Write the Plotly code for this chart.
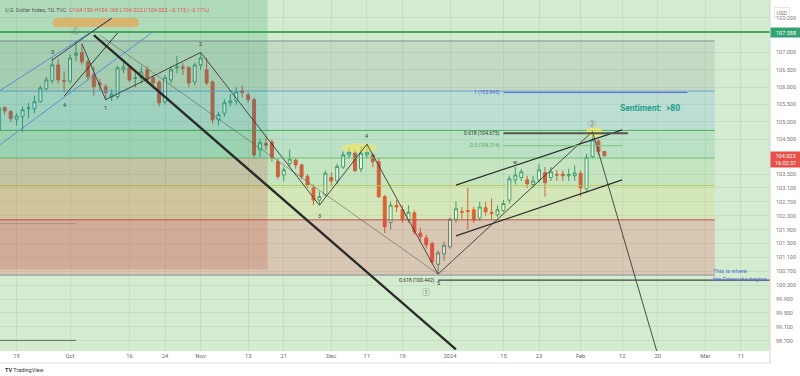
import pandas as pd
import plotly.graph_objects as go

# ---------------- data ----------------
holidays = ["2023-12-25", "2024-01-01"]
candle_start, candle_end = "2023-09-14", "2024-02-07"

opens = [104.77, 105.41, 105.30, 105.08, 105.15, 105.38, 105.38, 105.58, 105.95, 106.18,
         106.64, 106.20, 106.17, 106.92, 107.00, 106.73, 106.36, 106.12, 106.01, 105.72,
         105.73, 106.50, 106.56, 106.25, 106.27, 106.50, 106.27, 106.15, 105.58, 106.21,
         106.56, 106.58, 106.56, 106.15, 106.64, 106.50, 106.15, 105.06, 105.25, 105.55,
         105.60, 105.90, 105.78, 105.64, 104.20, 104.38, 104.42, 103.85, 103.47, 103.80,
         103.90, 103.76, 103.43, 103.10, 102.75, 102.90, 103.40, 103.30, 103.70, 104.05,
         104.10, 103.65, 104.05, 104.05, 103.85, 102.85, 102.10, 102.60, 102.47, 102.18,
         102.38, 101.80, 101.66, 101.50, 100.90, 101.20, 101.40, 102.20, 102.42, 102.45,
         102.47, 102.23, 102.53, 102.40, 102.32, 102.45, 102.75, 103.33, 103.40, 103.33,
         103.20, 103.33, 103.54, 103.40, 103.49, 103.50, 103.45, 103.45, 103.52, 103.07,
         104.00, 104.45, 104.150]
highs = [105.45, 105.45, 105.35, 105.25, 105.44, 105.55, 105.75, 106.05, 106.30, 106.85,
         106.80, 106.45, 106.95, 107.34, 107.25, 106.80, 106.60, 106.25, 106.10, 105.95,
         106.60, 106.80, 106.60, 106.50, 106.60, 106.60, 106.35, 106.20, 106.35, 106.60,
         106.90, 106.70, 106.60, 106.70, 107.00, 106.85, 106.20, 105.30, 105.65, 105.80,
         106.00, 106.05, 105.85, 105.70, 104.50, 104.60, 104.50, 103.95, 103.70, 104.20,
         103.95, 103.80, 103.50, 103.20, 103.00, 103.60, 103.55, 103.80, 104.15, 104.25,
         104.20, 104.30, 104.36, 104.10, 103.95, 102.90, 102.70, 102.75, 102.60, 102.60,
         102.45, 101.95, 101.75, 101.55, 101.30, 101.55, 102.25, 102.72, 102.55, 103.10,
         102.55, 102.70, 102.70, 102.80, 102.60, 102.75, 103.45, 103.70, 103.65, 103.45,
         103.45, 103.80, 103.70, 103.70, 103.62, 103.60, 103.65, 103.75, 103.60, 104.08,
         104.72, 104.50, 104.165]
lows = [104.70, 105.20, 105.00, 104.90, 104.71, 105.10, 105.25, 105.55, 105.90, 106.10,
        106.10, 105.85, 106.10, 106.75, 106.65, 106.20, 105.75, 105.90, 105.64, 105.60,
        105.65, 106.40, 106.15, 106.00, 106.10, 106.10, 105.95, 105.45, 105.50, 106.10,
        106.40, 106.35, 106.00, 106.05, 106.50, 106.05, 104.95, 104.90, 105.15, 105.45,
        105.50, 105.70, 105.55, 103.95, 104.00, 104.20, 103.85, 103.35, 103.30, 103.70,
        103.65, 103.35, 103.10, 102.60, 102.60, 102.85, 103.15, 103.20, 103.65, 103.95,
        103.55, 103.55, 103.95, 103.70, 102.80, 101.80, 101.90, 102.40, 102.10, 102.10,
        101.75, 101.55, 101.35, 100.90, 100.62, 101.00, 101.35, 102.10, 102.20, 101.90,
        102.10, 102.15, 102.30, 102.20, 102.25, 102.40, 102.65, 103.20, 103.30, 103.10,
        103.10, 103.25, 102.85, 103.30, 103.30, 103.30, 103.30, 103.30, 102.85, 102.95,
        103.95, 104.05, 104.022]
closes = [105.41, 105.32, 105.10, 105.17, 105.35, 105.40, 105.58, 105.98, 106.21, 106.64,
          106.21, 106.17, 106.84, 106.98, 106.73, 106.30, 106.01, 106.07, 105.84, 105.80,
          106.56, 106.58, 106.21, 106.27, 106.44, 106.21, 106.12, 105.55, 106.27, 106.50,
          106.58, 106.55, 106.12, 106.64, 106.84, 106.12, 105.06, 105.21, 105.55, 105.60,
          105.87, 105.84, 105.64, 104.05, 104.40, 104.33, 103.96, 103.43, 103.62, 103.93,
          103.76, 103.43, 103.18, 102.75, 102.85, 103.52, 103.30, 103.72, 104.05, 104.13,
          103.60, 104.10, 104.13, 103.85, 102.85, 101.98, 102.60, 102.55, 102.18, 102.40,
          101.83, 101.70, 101.46, 100.97, 101.23, 101.45, 102.20, 102.50, 102.40, 102.42,
          102.18, 102.55, 102.41, 102.36, 102.47, 102.65, 103.36, 103.47, 103.56, 103.22,
          103.30, 103.62, 103.25, 103.56, 103.47, 103.45, 103.48, 103.53, 103.10, 103.98,
          104.48, 104.14, 104.023]

tick_dates = ["2023-09-19", "2023-10-02", "2023-10-16", "2023-10-24", "2023-11-01", "2023-11-13",
              "2023-11-21", "2023-12-01", "2023-12-11", "2023-12-19", "2024-01-02", "2024-01-15",
              "2024-01-23", "2024-02-01", "2024-02-12", "2024-02-20", "2024-03-01", "2024-03-11"]
tick_text = ["19", "Oct", "16", "24", "Nov", "13", "21", "Dec", "11", "19", "2024", "15",
             "23", "Feb", "12", "20", "Mar", "11"]
y_ticks = [108.0, 107.0, 106.5, 106.0, 105.5, 105.0, 104.5, 103.5, 103.1, 102.7, 102.3,
           101.9, 101.5, 101.1, 100.7, 100.3, 99.9, 99.5, 99.1, 98.7]

# fibonacci retracement (low -> high)
fib_low, fib_high = 100.59, 107.33
fib_ratios = [0, 0.236, 0.382, 0.5, 0.618, 0.786, 1]
# position tool
pos_entry, pos_target, pos_stop = 103.96, 109.2, 100.75
# key horizontal
level_green = 107.588
last_price = 104.023

# drawing anchors (date, price)
wave_path = [("2023-10-04", 107.25), ("2023-10-10", 105.64), ("2023-11-01", 107.00),
             ("2023-11-29", 102.60), ("2023-12-11", 104.36), ("2023-12-28", 100.62),
             ("2024-02-05", 104.72), ("2024-02-20", 98.30)]
line_from_3 = [("2023-09-27", 106.78), ("2023-10-11", 107.99)]
line_from_4 = [("2023-09-29", 105.74), ("2023-10-12", 107.56)]
thick_line = [("2023-10-06", 107.50), ("2024-01-03", 98.45)]
thin_line = [("2023-10-09", 107.50), ("2023-12-28", 100.62)]
blue_upper = [("2023-09-14", 105.88), ("2023-10-11", 107.97)]
blue_lower = [("2023-09-14", 104.32), ("2023-10-20", 107.60)]
wedge_upper = [("2024-01-03", 103.18), ("2024-02-12", 104.77)]
wedge_lower = [("2024-01-03", 101.72), ("2024-02-12", 103.33)]

wave_labels = [("2023-09-27", 107.02, "3"), ("2023-09-29", 105.49, "4"), ("2023-10-10", 105.41, "1"),
               ("2023-11-01", 107.25, "2"), ("2023-11-29", 102.28, "3"), ("2023-12-11", 104.60, "4"),
               ("2023-12-28", 100.36, "5"), ("2024-01-17", 103.84, "w")]
circle_labels = [("2023-10-03", 107.62, "Ⓒ"), ("2023-12-26", 100.13, "①"), ("2024-02-05", 104.94, "②")]

# ---------------- helpers ----------------
days = pd.bdate_range("2023-09-01", "2024-03-29")
days = days[~days.isin(pd.to_datetime(holidays))]
pos = {d.strftime("%Y-%m-%d"): i for i, d in enumerate(days)}


def X(d, off=0.0):
    return pos[d] + off


cdates = [d.strftime("%Y-%m-%d") for d in days if pd.Timestamp(candle_start) <= d <= pd.Timestamp(candle_end)]
xk = [X(d) for d in cdates]
base = X("2023-09-19")

fig = go.Figure()
fig.add_trace(go.Candlestick(
    x=xk, open=opens, high=highs, low=lows, close=closes,
    increasing=dict(line=dict(color="#3c9a6c", width=1), fillcolor="#ffffff"),
    decreasing=dict(line=dict(color="#d95a3c", width=1), fillcolor="#d95a3c"),
    whiskerwidth=0, showlegend=False, hoverinfo="skip"))

shapes = []
left = base - 12
fib_right = X("2024-03-05", -0.4)
pos_right = X("2023-11-16", 0.3)

# fib bands
fib_vals = [fib_low + r * (fib_high - fib_low) for r in fib_ratios]
band_fills = ["rgba(242,54,69,0.20)", "rgba(230,200,0,0.10)", "rgba(76,175,80,0.10)",
              "rgba(8,153,129,0.12)", "rgba(33,140,243,0.12)", "rgba(120,123,134,0.15)"]
line_cols = ["#8a8d96", "#c0504d", "#b5cc55", "#6cc070", "#4caf50", "#6aa0dc", "#8a8d96"]
for i in range(6):
    shapes.append(dict(type="rect", xref="x", yref="y", x0=left, x1=fib_right,
                       y0=fib_vals[i], y1=fib_vals[i + 1], fillcolor=band_fills[i],
                       line=dict(width=0), layer="above"))
for v, c in zip(fib_vals, line_cols):
    shapes.append(dict(type="line", xref="x", yref="y", x0=left, x1=fib_right, y0=v, y1=v,
                       line=dict(color=c, width=1), layer="above"))

# position tool zones
shapes.append(dict(type="rect", xref="x", yref="y", x0=left, x1=pos_right, y0=pos_entry, y1=pos_target,
                   fillcolor="rgba(8,140,90,0.17)", line=dict(width=0), layer="above"))
shapes.append(dict(type="rect", xref="x", yref="y", x0=left, x1=pos_right, y0=pos_stop, y1=pos_entry,
                   fillcolor="rgba(190,50,40,0.18)", line=dict(width=0), layer="above"))

# faint left markers
shapes.append(dict(type="line", xref="x", yref="y", x0=left, x1=X("2023-10-03"), y0=102.07, y1=102.07,
                   line=dict(color="rgba(120,120,120,0.5)", width=1), layer="above"))
shapes.append(dict(type="line", xref="x", yref="y", x0=left, x1=X("2023-10-03"), y0=98.71, y1=98.71,
                   line=dict(color="#666666", width=1), layer="above"))

# green key level
shapes.append(dict(type="line", xref="paper", yref="y", x0=0, x1=1, y0=level_green, y1=level_green,
                   line=dict(color="#43a85a", width=2), layer="above"))

# orange highlighter bar
bx0, bx1, by0, by1 = X("2023-09-28", -0.2), X("2023-10-16", 0.9), 107.73, 107.99
shapes.append(dict(type="rect", xref="x", yref="y", x0=bx0, x1=bx1, y0=by0, y1=by1,
                   fillcolor="#d9b46c", line=dict(width=0), layer="above"))
for cx in (bx0, bx1):
    shapes.append(dict(type="circle", xref="x", yref="y", x0=cx - 0.76, x1=cx + 0.76, y0=by0, y1=by1,
                       fillcolor="#d9b46c", line=dict(width=0), layer="above"))

# yellow highlights
shapes.append(dict(type="circle", xref="x", yref="y", x0=X("2023-12-05", -0.3), x1=X("2023-12-12", 0.7),
                   y0=104.12, y1=104.38, fillcolor="rgba(255,235,80,0.55)", line=dict(width=0), layer="above"))
shapes.append(dict(type="circle", xref="x", yref="y", x0=X("2024-02-05", -1.2), x1=X("2024-02-06", 0.8),
                   y0=104.55, y1=104.85, fillcolor="rgba(255,235,80,0.6)", line=dict(width=0), layer="above"))


def seg(points, color, width):
    for (d0, p0), (d1, p1) in zip(points[:-1], points[1:]):
        shapes.append(dict(type="line", xref="x", yref="y", x0=X(d0), y0=p0, x1=X(d1), y1=p1,
                           line=dict(color=color, width=width), layer="above"))


seg(blue_upper, "#5b8ed6", 1)
seg(blue_lower, "#5b8ed6", 1)
seg(thin_line, "rgba(90,90,90,0.7)", 0.8)
seg(line_from_3, "#3a3a3a", 1)
seg(line_from_4, "#3a3a3a", 1)
seg(wave_path, "#3a3a3a", 0.9)
seg(thick_line, "#2a2a2a", 2.3)
seg(wedge_upper, "#2f2f2f", 1.2)
seg(wedge_lower, "#2f2f2f", 1.2)

# small fib labels' lines
fib_start = X("2024-01-15")
shapes.append(dict(type="line", xref="x", yref="y", x0=fib_start, x1=X("2024-02-27"), y0=105.845, y1=105.845,
                   line=dict(color="#6464d2", width=1), layer="above"))
shapes.append(dict(type="line", xref="x", yref="y", x0=fib_start, x1=X("2024-02-13"), y0=104.675, y1=104.675,
                   line=dict(color="#555555", width=2), layer="above"))
shapes.append(dict(type="line", xref="x", yref="y", x0=fib_start, x1=X("2024-02-12"), y0=104.314, y1=104.314,
                   line=dict(color="#7cc47a", width=1), layer="above"))
shapes.append(dict(type="line", xref="x", yref="y", x0=X("2023-12-28"), x1=X("2024-03-22"), y0=100.442, y1=100.442,
                   line=dict(color="#444444", width=1.3), layer="above"))

# axis frame lines
shapes.append(dict(type="line", xref="paper", yref="paper", x0=0, x1=1, y0=-0.034, y1=-0.034,
                   line=dict(color="#dddddd", width=1)))
shapes.append(dict(type="line", xref="paper", yref="paper", x0=1, x1=1, y0=-0.034, y1=1,
                   line=dict(color="#d4d4d4", width=1)))

ann = []
FONT = "Roboto"
ann.append(dict(xref="paper", yref="paper", x=0.004, y=1, yshift=-5, xanchor="left", yanchor="top",
                showarrow=False, font=dict(family=FONT, size=5.5, color="#555"),
                text="U.S. Dollar Index, 1D, TVC  <span style='color:#e05050'>O104.150 H104.165 L104.022 "
                     "C104.023 −0.115 (−0.11%)</span>"))
for d, p, t in wave_labels:
    ann.append(dict(x=X(d), y=p, text=t, showarrow=False, font=dict(family=FONT, size=5.5, color="#333")))
for d, p, t in circle_labels:
    ann.append(dict(x=X(d), y=p, text=t, showarrow=False,
                    font=dict(family="Noto Sans CJK SC", size=8, color="#777")))
ann.append(dict(x=fib_start, y=105.845, text="1 (105.845)", xanchor="right", xshift=-1, showarrow=False,
                font=dict(family=FONT, size=5, color="#5a5ad0")))
ann.append(dict(x=fib_start, y=104.675, text="0.618 (104.675)", xanchor="right", xshift=-1, showarrow=False,
                font=dict(family=FONT, size=5, color="#333")))
ann.append(dict(x=fib_start, y=104.314, text="0.5 (104.314)", xanchor="right", xshift=-1, showarrow=False,
                font=dict(family=FONT, size=5, color="#4caf50")))
ann.append(dict(x=X("2023-12-28"), y=100.442, text="0.618 (100.442)", xanchor="right", xshift=-1, showarrow=False,
                font=dict(family=FONT, size=5, color="#333")))
ann.append(dict(x=X("2024-02-19", -0.3), y=105.40, text="<b>Sentiment:  >80</b>", showarrow=False,
                font=dict(family=FONT, size=8.5, color="#1e9e8c")))
ann.append(dict(x=X("2024-03-04"), y=100.60, text="This is where<br>the Fireworks begins", xanchor="left",
                align="left", showarrow=False, font=dict(family=FONT, size=5.8, color="#4a6fd8")))
# axis badges
ann.append(dict(xref="paper", yref="y", x=1, y=level_green, xanchor="left", text="107.588", showarrow=False,
                bgcolor="#35a271", font=dict(family=FONT, size=5.5, color="white"), width=27, borderpad=1.5))
ann.append(dict(xref="paper", yref="y", x=1, y=last_price, yanchor="top", yshift=5, xanchor="left",
                text="104.023<br>16:02:37", showarrow=False, bgcolor="#e8504a",
                font=dict(family=FONT, size=5.5, color="white"), width=27, borderpad=1))
ann.append(dict(xref="paper", yref="paper", x=1, y=1, xanchor="left", yanchor="top", xshift=4, yshift=-7,
                text="USD", showarrow=False, bordercolor="#e6e6e6", borderwidth=1, borderpad=1.5,
                font=dict(family=FONT, size=5.5, color="#777")))
ann.append(dict(xref="paper", yref="paper", x=0, y=0, xanchor="left", yanchor="middle", xshift=3, yshift=-19,
                text="<b>TV</b> TradingView", showarrow=False, font=dict(family=FONT, size=5.5, color="#333")))

fig.update_layout(
    width=800, height=376, margin=dict(l=0, r=30, t=0, b=25),
    paper_bgcolor="white", plot_bgcolor="#d3ebcf",
    shapes=shapes, annotations=ann, showlegend=False,
    font=dict(family=FONT, size=6, color="#555"),
    xaxis=dict(type="linear", range=[base - 2.8, base + 126.9], tickvals=[X(d) for d in tick_dates],
               ticktext=tick_text, showgrid=True, gridcolor="rgba(0,0,0,0.06)", zeroline=False,
               ticks="", tickfont=dict(size=5.8, color="#666"), rangeslider=dict(visible=False),
               showline=False),
    yaxis=dict(side="right", range=[98.404, 108.51], tickvals=y_ticks,
               ticktext=[f"{v:.3f}" for v in y_ticks], showgrid=True, gridcolor="rgba(0,0,0,0.06)",
               zeroline=False, ticks="", tickfont=dict(size=5.5, color="#777"), ticklabelstandoff=5),
)
fig.write_html("out.html")
